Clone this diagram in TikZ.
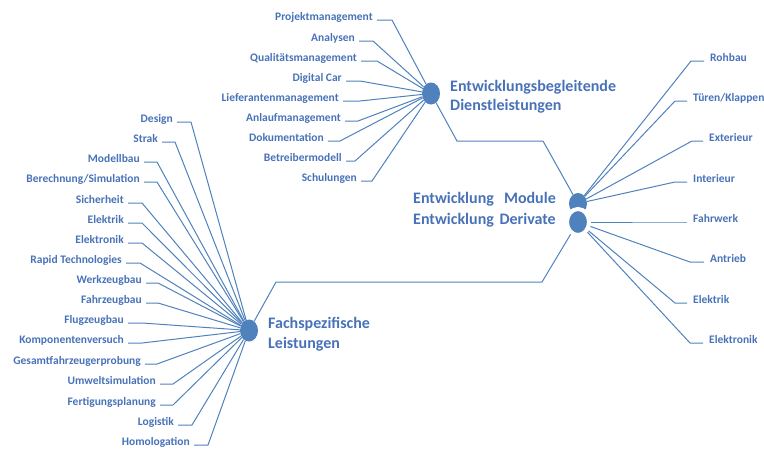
\documentclass[tikz,border=0pt]{standalone}
\usepackage{fontspec}
\setmainfont{Carlito}
\usetikzlibrary{positioning,shapes.geometric}
\definecolor{hubBlue}{RGB}{79,129,189}
\definecolor{txtBlue}{RGB}{72,114,184}

\begin{document}
\begin{tikzpicture}[x=1pt,y=-1pt,
    hub/.style={ellipse, fill=hubBlue, inner sep=0pt,
      minimum width=18pt, minimum height=22pt},
    lbl/.style={font=\fontsize{11.5}{13}\selectfont\bfseries, text=txtBlue,
      inner ysep=0pt, inner xsep=4pt},
    head/.style={font=\fontsize{16}{19}\selectfont\bfseries, text=txtBlue,
      inner sep=0pt},
    spoke/.style={draw=hubBlue, line width=1pt}
  ]
  \useasboundingbox (0,0) rectangle (764,450);

  % hubs
  \node[hub] (eb) at (431,93.5) {};
  \node[hub] (fs) at (249,330.5) {};
  \node[hub, minimum height=21pt] (mo) at (578,203.5) {};
  \node[hub, minimum width=22pt, minimum height=26pt,
    draw=white, line width=4pt] (de) at (578,222) {};

  % hub titles
  \node[head, anchor=base west] (ebT1) at (450,91) {Entwicklungsbegleitende};
  \node[head, anchor=base west] (ebT2) at (450,110) {Dienstleistungen};
  \node[head, anchor=base west] (fsT1) at (268,328) {Fachspezifische};
  \node[head, anchor=base west] (fsT2) at (268,348) {Leistungen};
  \node[head, anchor=base west] (moT1) at (413,203) {Entwicklung};
  \node[head, anchor=base east] (moT2) at (556,203) {Module};
  \node[head, anchor=base west] (deT1) at (413,224) {Entwicklung};
  \node[head, anchor=base east] (deT2) at (556,224) {Derivate};

  % links between hubs
  \coordinate (k1) at (457,141);
  \coordinate (k2) at (543,141);
  \coordinate (k3) at (276,282);
  \coordinate (k4) at (542,282);
  \draw[spoke] (eb) -- (k1) -- (k2) -- (mo);
  \draw[spoke] (fs) -- (k3) -- (k4) -- (de);

  % Entwicklungsbegleitende Dienstleistungen
  \foreach \name/\xa/\xb/\y [count=\i] in {
      Projektmanagement/377/392/20, Analysen/359/373/41,
      Qualitätsmanagement/361/377/61, Digital Car/346/360/81,
      Lieferantenmanagement/343/360/101, Anlaufmanagement/345/358/121,
      Dokumentation/328/340/141, Betreibermodell/346/355/161,
      Schulungen/361/372/181} {
    \node[lbl, anchor=base east] (eb\i) at (\xa,\y) {\name};
    \coordinate (ebk\i) at (\xb,\y);
    \draw[spoke] (eb\i.base east) -- (ebk\i) -- (eb);
  }

  % Fachspezifische Leistungen
  \foreach \name/\xa/\xb/\y [count=\i] in {
      Design/177/191/122, Strak/162/175/142, Modellbau/144/157/162,
      {Berechnung/Simulation}/144/157/182, Sicherheit/128/142/203,
      Elektrik/128/142/223, Elektronik/128/142/243,
      Rapid Technologies/126/140/263, Werkzeugbau/146/158/283,
      Fahrzeugbau/146/158/303, Flugzeugbau/128/142/323,
      Komponentenversuch/128/142/343, Gesamtfahrzeugerprobung/145/157/364,
      Umweltsimulation/160/173/384, Fertigungsplanung/160/173/405,
      Logistik/178/192/425, Homologation/194/208/445} {
    \node[lbl, anchor=base east] (fs\i) at (\xa,\y) {\name};
    \coordinate (fsk\i) at (\xb,\y);
    \draw[spoke] (fs\i.base east) -- (fsk\i) -- (fs);
  }

  % Module
  \foreach \name/\xa/\xb/\y [count=\i] in {
      Rohbau/691/704/61, {Türen/Klappen}/675/687/101,
      Exterieur/692/703/141, Interieur/675/687/182} {
    \node[lbl, anchor=base west, inner xsep=6pt] (mo\i) at (\xb,\y) {\name};
    \coordinate (mok\i) at (\xa,\y);
    \draw[spoke] (mo\i.base west) -- (mok\i) -- (mo);
  }

  % Derivate
  \foreach \name/\xa/\xb/\y [count=\i] in {
      Fahrwerk/673/687/222, Antrieb/690/704/262,
      Elektrik/675/687/303, Elektronik/690/703/343} {
    \node[lbl, anchor=base west, inner xsep=6pt] (de\i) at (\xb,\y) {\name};
    \coordinate (dek\i) at (\xa,\y);
    \draw[spoke] (de\i.base west) -- (dek\i) -- (de);
  }
\end{tikzpicture}
\end{document}
